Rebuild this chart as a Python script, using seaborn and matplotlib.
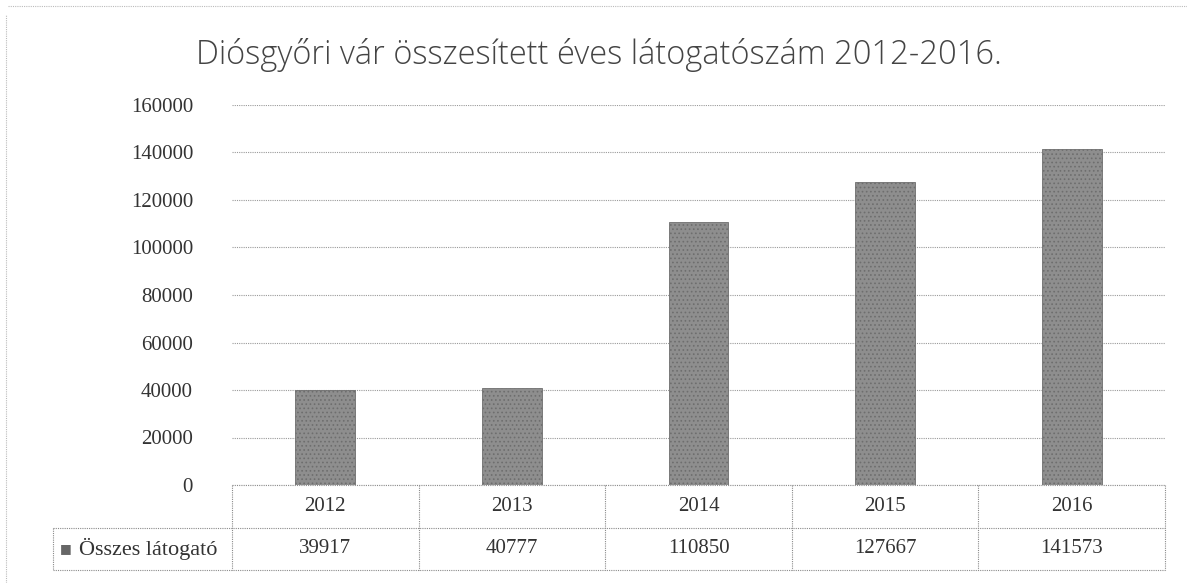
import matplotlib
matplotlib.use("Agg")
import matplotlib.pyplot as plt
import matplotlib.transforms as mtransforms
import pandas as pd
import seaborn as sns

# Data
years = ["2012", "2013", "2014", "2015", "2016"]
visitors = [39917, 40777, 110850, 127667, 141573]
series_label = "Összes látogató"
y_ticks = [0, 20000, 40000, 60000, 80000, 100000, 120000, 140000, 160000]

df = pd.DataFrame({"year": years, "visitors": visitors})

sns.set_theme(style="white")
plt.rcParams["font.family"] = ["Liberation Serif", "DejaVu Serif"]
plt.rcParams["hatch.color"] = "#4a4a4a"
plt.rcParams["hatch.linewidth"] = 0.7

fig = plt.figure(figsize=(11.87, 5.83), dpi=100)
ax = fig.add_axes([232 / 1187, (583 - 485) / 583, 933 / 1187, 380 / 583])

sns.barplot(data=df, x="year", y="visitors", ax=ax, color="#8e8e8e",
            width=0.32, saturation=1, edgecolor="#6e6e6e", linewidth=0.6)
for p in ax.patches:
    p.set_hatch("....")

ax.set_ylim(0, 160000)
ax.set_xlim(-0.5, len(years) - 0.5)
ax.set_yticks(y_ticks)
ax.set_yticklabels([str(t) for t in y_ticks], fontsize=15, color="#333333")
ax.tick_params(axis="y", length=0, pad=28)
ax.set_xticks([])
ax.set_xlabel("")
ax.set_ylabel("")
for s in ax.spines.values():
    s.set_visible(False)
ax.yaxis.grid(True, linestyle=(0, (1, 1)), color="#9a9a9a", linewidth=0.8)
ax.set_axisbelow(True)

# data table below the plot
row_h = 0.112
left_x = -1.46
trans = mtransforms.blended_transform_factory(ax.transData, ax.transAxes)
line_kw = dict(color="#8a8a8a", linestyle=(0, (1, 1)), linewidth=0.8, clip_on=False)
ax.plot([-0.5, len(years) - 0.5], [0, 0], transform=trans, **line_kw)
ax.plot([left_x, len(years) - 0.5], [-row_h, -row_h], transform=trans, **line_kw)
ax.plot([left_x, len(years) - 0.5], [-2 * row_h, -2 * row_h], transform=trans, **line_kw)
ax.plot([left_x, left_x], [-row_h, -2 * row_h], transform=trans, **line_kw)
for i in range(len(years) + 1):
    ax.plot([i - 0.5, i - 0.5], [0, -2 * row_h], transform=trans, **line_kw)
for i, (yr, v) in enumerate(zip(years, visitors)):
    ax.text(i, -row_h / 2, yr, transform=trans, ha="center", va="center",
            fontsize=15, color="#333333")
    ax.text(i, -1.5 * row_h, str(v), transform=trans, ha="center", va="center",
            fontsize=15, color="#333333")
ax.text(-1.32, -1.5 * row_h, series_label, transform=trans, ha="left",
        va="center", fontsize=16, color="#333333")
ax.text(-1.42, -1.5 * row_h, "■", transform=trans, ha="left", va="center",
        fontsize=9, color="#666666", family=["DejaVu Sans"])

fig.suptitle("Diósgyőri vár összesített éves látogatószám 2012-2016.",
             x=0.505, y=0.935, fontsize=23.5, color="#444444",
             family=["Open Sans", "DejaVu Sans"], fontweight="light")

# faint dotted page frame from the scan
fig.add_artist(plt.Line2D([6 / 1187, 6 / 1187], [0, 1 - 15 / 583],
                          color="#bbbbbb", linestyle=(0, (1, 1)), linewidth=0.8))
fig.add_artist(plt.Line2D([8 / 1187, 1], [1 - 6 / 583, 1 - 6 / 583],
                          color="#bbbbbb", linestyle=(0, (1, 1)), linewidth=0.8))

fig.savefig("out.png", dpi=100)
